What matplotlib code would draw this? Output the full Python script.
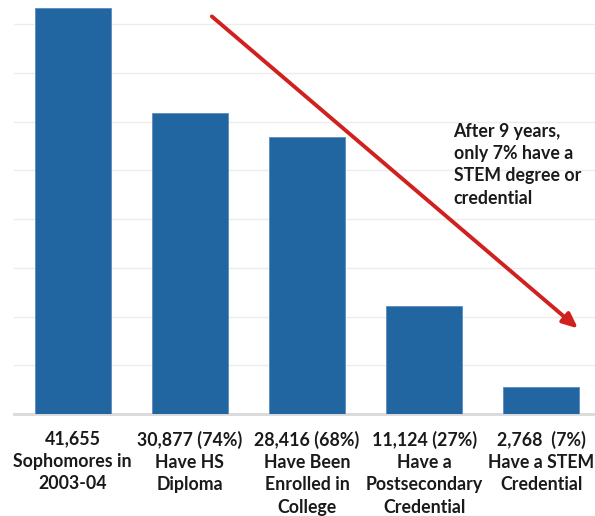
import matplotlib
matplotlib.use("Agg")
import matplotlib.pyplot as plt

labels = ["41,655\nSophomores in\n2003-04",
          "30,877 (74%)\nHave HS\nDiploma",
          "28,416 (68%)\nHave Been\nEnrolled in\nCollege",
          "11,124 (27%)\nHave a\nPostsecondary\nCredential",
          "2,768  (7%)\nHave a STEM\nCredential"]
values = [41655, 30877, 28416, 11124, 2768]
note = "After 9 years,\nonly 7% have a\nSTEM degree or\ncredential"

W, H = 595, 516
fig = plt.figure(figsize=(W/100, H/100), dpi=100)
left_px, right_px, top_px, base_px = 14, 600, 0, 414
ax = fig.add_axes([left_px/W, 1 - base_px/H, (right_px-left_px)/W, (base_px-top_px)/H])

x = list(range(len(values)))
ax.bar(x, values, width=0.65, color="#2266A1", edgecolor="#5b8cc0", linewidth=0.6, zorder=3)
ax.set_xlim(-0.5, 4.5)
ax.set_ylim(0, 42500)
ax.set_yticks(range(0, 42500, 5000))
ax.yaxis.grid(True, color="#ececec", linewidth=1, zorder=0)
ax.tick_params(left=False, labelleft=False, bottom=False, labelbottom=False)
for s in ["top", "right", "left"]:
    ax.spines[s].set_visible(False)
ax.spines["bottom"].set_color("#d9d9d9")
ax.spines["bottom"].set_linewidth(2)

font = {"family": ["Lato", "DejaVu Sans"], "weight": "bold", "size": 12.8}
for xi, lab in zip(x, labels):
    ax.text(xi, -0.040, lab, transform=ax.get_xaxis_transform(), ha="center", va="top",
            linespacing=1.38, color="#1a1a1a", **font)

arrow_start = (1.17, 41000)
arrow_end = (4.33, 8600)
ax.annotate("", xy=arrow_end, xytext=arrow_start,
            arrowprops=dict(arrowstyle="-|>,head_length=0.9,head_width=0.4", color="#D0211F", lw=2.8),
            zorder=5)
ax.text(3.25, 29900, note, ha="left", va="top", linespacing=1.38, color="#1a1a1a", **font)

fig.savefig("out.png", dpi=100)
